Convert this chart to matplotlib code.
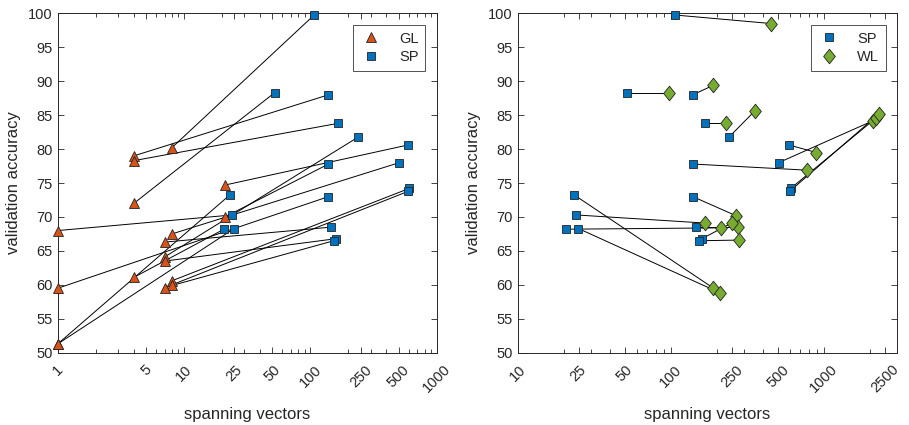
import matplotlib
matplotlib.use('Agg')
import matplotlib.pyplot as plt
from matplotlib.path import Path
from matplotlib.ticker import LogLocator, NullFormatter

plt.rcParams['font.family'] = ['Liberation Sans', 'DejaVu Sans']

# one entry per experiment: GL -> SP (left), SP -> WL (right)
gl_x = [8, 4, 4, 4, 7, 21, 21, 8, 1, 1, 8, 8, 1, 4, 1, 7, 7, 7]
gl_y = [80.2, 72.0, 79.0, 78.3, 64.1, 74.7, 70.0, 67.5, 51.3, 59.5,
        60.6, 60.0, 68.0, 61.1, 51.3, 66.3, 63.5, 59.6]
sp_x = [107, 52, 139, 166, 240, 590, 139, 504, 23.2, 139,
        604, 597, 24.1, 20.7, 24.9, 145, 159, 153]
sp_y = [99.75, 88.3, 88.0, 83.8, 81.8, 80.6, 77.8, 78.0, 73.3, 73.0,
        74.2, 73.8, 70.3, 68.2, 68.3, 68.5, 66.8, 66.5]
wl_x = [450, 97, 189, 228, 352, 890, 770, 2094, 187, 265,
        2185, 2280, 168, 213, 210, 275, 249, 278]
wl_y = [98.5, 88.3, 89.4, 83.8, 85.6, 79.5, 76.9, 84.2, 59.6, 70.2,
        84.6, 85.2, 69.1, 68.4, 58.8, 68.5, 69.1, 66.6]

left_ticks = [1, 5, 10, 25, 50, 100, 250, 500, 1000]
right_ticks = [10, 25, 50, 100, 250, 500, 1000, 2500]
y_ticks = list(range(50, 101, 5))

c_gl = '#D95319'
c_sp = '#0072BD'
c_wl = '#77AC30'
txt = '#262626'

# matlab-like diamond, a bit wider than 'd'
diamond = Path([(0, 1), (0.8, 0), (0, -1), (-0.8, 0), (0, 1)],
               [Path.MOVETO, Path.LINETO, Path.LINETO, Path.LINETO, Path.CLOSEPOLY])

fig = plt.figure(figsize=(9.09, 4.25), dpi=100)
ax1 = fig.add_axes([0.0635, 0.170, 0.417, 0.7986])
ax2 = fig.add_axes([0.5695, 0.170, 0.4176, 0.7986])


def style(ax, xlim, ticks):
    ax.set_xscale('log')
    ax.set_xlim(*xlim)
    ax.set_ylim(50, 100)
    ax.set_xticks(ticks)
    ax.set_xticklabels([str(t) for t in ticks], rotation=45, ha='center')
    ax.xaxis.set_minor_locator(LogLocator(base=10, subs=range(2, 10), numticks=20))
    ax.xaxis.set_minor_formatter(NullFormatter())
    ax.set_yticks(y_ticks)
    ax.tick_params(which='both', direction='in', top=True, right=True,
                   colors=txt, labelsize=10.5, width=0.6)
    ax.tick_params(which='major', length=4)
    ax.tick_params(which='minor', length=3)
    ax.tick_params(axis='x', pad=7)
    for s in ax.spines.values():
        s.set_color(txt)
        s.set_linewidth(0.7)
    ax.set_xlabel('spanning vectors', fontsize=12, color=txt, labelpad=8)
    ax.set_ylabel('validation accuracy', fontsize=12, color=txt, labelpad=5)


mk = dict(linestyle='none', markeredgecolor='#222222', markeredgewidth=0.6)

for i in range(len(gl_x)):
    ax1.plot([gl_x[i], sp_x[i]], [gl_y[i], sp_y[i]], color='black', lw=0.7, zorder=1)
ax1.plot(gl_x, gl_y, marker='^', markersize=7.8, color=c_gl, label='GL', zorder=3, clip_on=False, **mk)
ax1.plot(sp_x, sp_y, marker='s', markersize=5.6, color=c_sp, label='SP', zorder=4, clip_on=False, **mk)
style(ax1, (1, 1000), left_ticks)

for i in range(len(sp_x)):
    ax2.plot([sp_x[i], wl_x[i]], [sp_y[i], wl_y[i]], color='black', lw=0.7, zorder=1)
ax2.plot(sp_x, sp_y, marker='s', markersize=5.6, color=c_sp, label='SP', zorder=3, clip_on=False, **mk)
ax2.plot(wl_x, wl_y, marker=diamond, markersize=10.5, color=c_wl, label='WL', zorder=4, clip_on=False, **mk)
style(ax2, (10, 3000), right_ticks)

for ax in (ax1, ax2):
    leg = ax.legend(loc='upper right', fontsize=10.5, frameon=True, fancybox=False,
                    edgecolor=txt, borderaxespad=0.8, handlelength=1.6,
                    handletextpad=1.1, borderpad=0.45, labelspacing=0.3)
    leg.get_frame().set_linewidth(0.7)
    for t in leg.get_texts():
        t.set_color(txt)

fig.savefig('out.png', dpi=100)
